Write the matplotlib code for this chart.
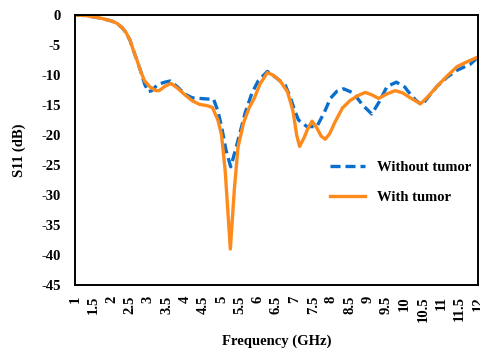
import matplotlib
matplotlib.use("Agg")
import matplotlib.pyplot as plt
import numpy as np

plt.rcParams['font.family'] = ['Liberation Serif', 'DejaVu Serif']
plt.rcParams['font.weight'] = 'bold'
plt.rcParams['axes.unicode_minus'] = False

# Without tumor (blue dashed)
freq_without = [1.0, 1.3, 1.68, 2.0, 2.15, 2.3, 2.4, 2.5, 2.6, 2.69, 2.8, 2.9, 3.0, 3.1, 3.25,
                3.45, 3.6, 3.8, 4.0, 4.2, 4.4, 4.6, 4.78, 4.9, 5.0, 5.12, 5.25, 5.38, 5.5,
                5.65, 5.83, 6.0, 6.25, 6.5, 6.74, 6.87, 7.0, 7.1, 7.33, 7.6, 7.8, 7.97,
                8.15, 8.33, 8.6, 8.85, 9.1, 9.3, 9.52, 9.77, 10.0, 10.1, 10.3, 10.47,
                10.65, 10.88, 11.15, 11.43, 11.79, 12.0]
s11_without = [0, -0.1, -0.5, -1.0, -1.4, -2.2, -3.0, -4.2, -6.0, -7.5, -9.5, -11.5, -12.8, -12.6,
               -11.6, -11.2, -11.0, -12.0, -13.2, -13.8, -13.9, -14.0, -14.0, -16.0, -18.6,
               -22.5, -25.3, -22.5, -19.7, -16.2, -13.0, -11.0, -9.4, -10.5, -11.7, -13.6,
               -16.0, -17.5, -18.6, -18.6, -16.3, -13.9, -12.7, -12.3, -13.0, -15.0, -16.5,
               -14.5, -11.9, -11.2, -12.0, -12.8, -14.2, -15.0, -13.6, -11.9, -10.4, -9.2,
               -8.2, -7.0]

# With tumor (orange solid)
freq_with = [1.0, 1.3, 1.68, 2.0, 2.15, 2.3, 2.4, 2.5, 2.6, 2.69, 2.8, 2.9, 3.05, 3.2, 3.3, 3.45,
             3.62, 3.8, 4.0, 4.2, 4.4, 4.6, 4.75, 4.9, 5.0, 5.1, 5.24, 5.35, 5.45, 5.6, 5.75,
             5.9, 6.05, 6.25, 6.4, 6.6, 6.8, 6.95, 7.05, 7.13, 7.25, 7.35, 7.47, 7.6, 7.72,
             7.83, 7.95, 8.1, 8.3, 8.5, 8.7, 8.92, 9.1, 9.29, 9.5, 9.74, 9.95, 10.15, 10.43,
             10.65, 10.88, 11.15, 11.43, 11.7, 12.0]
s11_with = [0, -0.1, -0.5, -1.0, -1.4, -2.2, -3.0, -4.2, -6.0, -7.5, -9.5, -11.0, -12.0, -12.6,
            -12.6, -11.9, -11.4, -12.2, -13.3, -14.3, -14.9, -15.1, -15.4, -17.5, -20.0,
            -26.0, -39.0, -29.0, -22.0, -18.0, -15.5, -13.8, -11.5, -9.6, -10.0, -11.0,
            -12.8, -16.0, -20.0, -21.9, -20.5, -19.0, -17.7, -18.8, -20.2, -20.7, -19.8,
            -17.8, -15.5, -14.3, -13.5, -12.9, -13.3, -13.9, -13.2, -12.6, -13.0, -13.8,
            -14.8, -13.5, -11.9, -10.2, -8.6, -7.8, -7.0]

x_ticks = [1, 1.5, 2, 2.5, 3, 3.5, 4, 4.5, 5, 5.5, 6, 6.5, 7, 7.5, 8, 8.5, 9, 9.5, 10,
           10.5, 11, 11.5, 12]
x_ticklabels = ['1', '1.5', '2', '2.5', '3', '3.5', '4', '4.5', '5', '5.5', '6', '6.5', '7',
                '7.5', '8', '8.5', '9', '9.5', '10', '10.5', '11', '11.5', '12']
y_ticks = [0, -5, -10, -15, -20, -25, -30, -35, -40, -45]

fig = plt.figure(figsize=(4.8, 3.52), dpi=100)
ax = fig.add_axes([75/480, 1-285/352, (478-75)/480, (285-15)/352])

ax.plot(freq_without, s11_without, color='#0A6FCC', lw=2.4, ls=(0, (3.0, 1.5)),
        label='Without tumor', dash_capstyle='butt', dash_joinstyle='round')
ax.plot(freq_with, s11_with, color='#FF8A1C', lw=2.4, label='With tumor',
        solid_joinstyle='round')

ax.set_xlim(1, 12)
ax.set_ylim(-45, 0)
ax.set_xticks(x_ticks)
ax.set_xticklabels(x_ticklabels, rotation=90, fontsize=10.5, fontweight='bold')
ax.set_yticks(y_ticks)
ax.set_yticklabels([str(v) for v in y_ticks], fontsize=10.5, fontweight='bold')
ax.tick_params(axis='both', length=0)
ax.tick_params(axis='x', pad=8)
ax.tick_params(axis='y', pad=10)

for s in ax.spines.values():
    s.set_linewidth(1.4)
    s.set_color('black')

ax.set_xlabel('Frequency (GHz)', fontsize=10.5, fontweight='bold', labelpad=9)
ax.set_ylabel('S11 (dB)', fontsize=10.5, fontweight='bold', labelpad=11)

leg = ax.legend(loc='center left', bbox_to_anchor=(0.6, 0.38), frameon=False,
                prop={'family': 'Liberation Serif', 'weight': 'bold', 'size': 10.5},
                handlelength=2.4, labelspacing=1.2)

fig.savefig('out.png', dpi=100)
